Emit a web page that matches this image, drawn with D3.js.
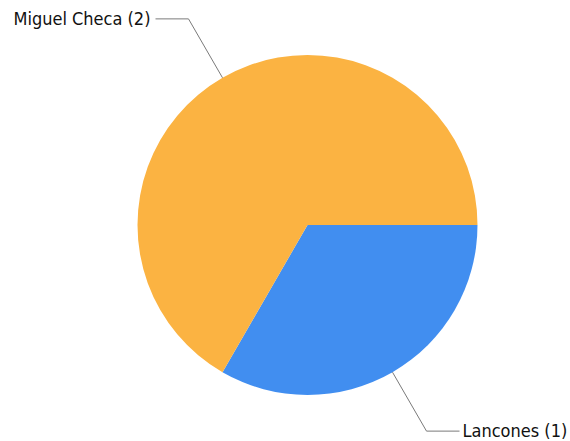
<!DOCTYPE html>
<html>
<head>
<meta charset="utf-8">
<script src="https://cdn.jsdelivr.net/npm/d3@7"></script>
<style>
  body { margin: 0; background: #fff; }
  text { font-family: "DejaVu Sans Condensed", "DejaVu Sans", sans-serif; font-size: 18px; fill: #111; }
</style>
</head>
<body>
<div id="chart"></div>
<script>
// data
var names = ["Lancones", "Miguel Checa"]
var counts = [1, 2]
var colors = ["#418ef0", "#fbb342"]

var width = 570, height = 441
var cx = 307.5, cy = 225, radius = 170

var svg = d3.select("#chart").append("svg")
  .attr("width", width)
  .attr("height", height)

var g = svg.append("g")
  .attr("transform", "translate(" + cx + "," + cy + ")")

var pie = d3.pie()
  .sort(null)
  .startAngle(Math.PI / 2)
  .endAngle(Math.PI / 2 + 2 * Math.PI)
  .value(function(d) { return d })

var arcs = pie(counts)

var arc = d3.arc().innerRadius(0).outerRadius(radius)
var edgeArc = d3.arc().innerRadius(radius).outerRadius(radius)
var outerArc = d3.arc().innerRadius(238).outerRadius(238)

g.selectAll("path.slice")
  .data(arcs)
  .enter().append("path")
  .attr("class", "slice")
  .attr("d", arc)
  .attr("fill", function(d, i) { return colors[i] })

// leader lines
g.selectAll("polyline")
  .data(arcs)
  .enter().append("polyline")
  .attr("fill", "none")
  .attr("stroke", "#7a7a7a")
  .attr("stroke-width", 1)
  .attr("points", function(d) {
    var a = edgeArc.centroid(d)
    var b = outerArc.centroid(d)
    var mid = (d.startAngle + d.endAngle) / 2
    var right = Math.sin(mid) > 0
    var c = [b[0] + (right ? 33 : -33), b[1]]
    return [a, b, c].map(function(p) { return p.join(",") }).join(" ")
  })

g.selectAll("text.label")
  .data(arcs)
  .enter().append("text")
  .attr("class", "label")
  .attr("dy", "0.35em")
  .attr("x", function(d) {
    var b = outerArc.centroid(d)
    var mid = (d.startAngle + d.endAngle) / 2
    return Math.sin(mid) > 0 ? b[0] + 36 : b[0] - 38
  })
  .attr("y", function(d) { return outerArc.centroid(d)[1] })
  .attr("text-anchor", function(d) {
    var mid = (d.startAngle + d.endAngle) / 2
    return Math.sin(mid) > 0 ? "start" : "end"
  })
  .text(function(d, i) { return names[i] + " (" + counts[i] + ")" })
</script>
</body>
</html>
